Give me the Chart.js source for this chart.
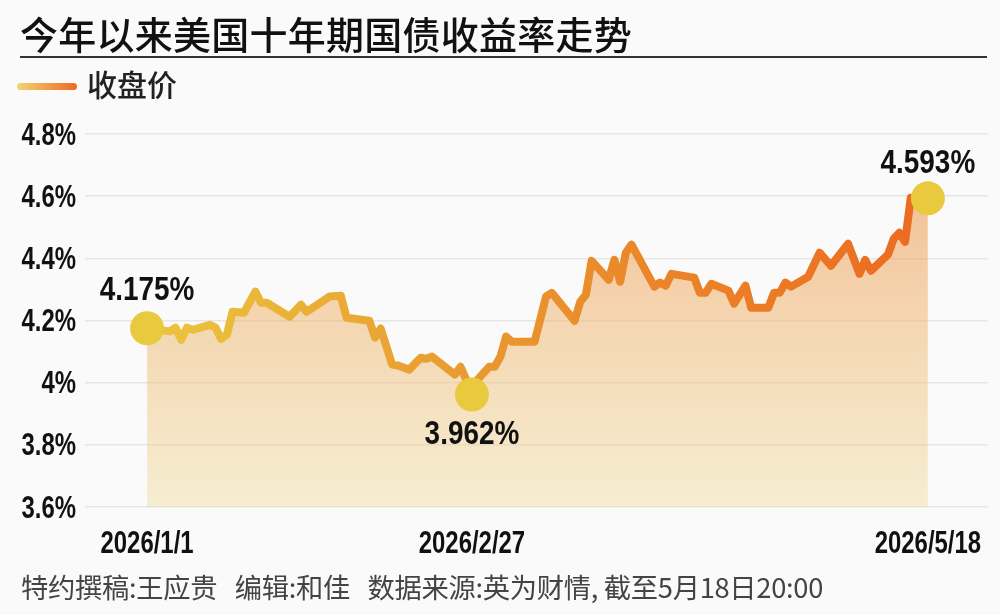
<!DOCTYPE html>
<html lang="zh"><head><meta charset="utf-8">
<script src="https://cdn.jsdelivr.net/npm/chart.js@4/dist/chart.umd.min.js"></script>
<style>
html,body{margin:0;padding:0;background:#fafafa;width:1000px;height:615px;overflow:hidden}
body{position:relative;font-family:"Noto Sans CJK SC","Noto Sans",sans-serif}
#c{position:absolute;left:0;top:0}
.t{position:absolute;white-space:nowrap;line-height:1}
#title{left:20px;top:14px;font-size:38px;font-weight:500;color:#111;letter-spacing:.25px}
#rule{position:absolute;left:20px;top:56px;width:967px;height:2px;background:#333}
#leg{position:absolute;left:17px;top:83px;width:60px;height:7px;border-radius:4px;background:linear-gradient(90deg,#f0d573,#ee6a22)}
#legt{left:87px;top:68px;font-size:30px;font-weight:500;color:#222}
#foot{left:21px;top:573px;font-size:27.3px;color:#444;letter-spacing:-.3px}
</style></head><body>
<canvas id="c" width="1005" height="615"></canvas>
<div class="t" id="title">今年以来美国十年期国债收益率走势</div>
<div id="rule"></div><div id="leg"></div>
<div class="t" id="legt">收盘价</div>
<div class="t" id="foot">特约撰稿:王应贵&nbsp;&nbsp;&nbsp;编辑:和佳&nbsp;&nbsp;&nbsp;数据来源:英为财情, 截至5月18日20:00</div>
<script>
const days=[0,4,5,6,7,8,11,12,13,14,15,17,19,20,21,25,27,28,32,34,35,39,40,41,43,44,46,48,49,50,54,55,56,57,58,60,61,62,63,64,68,70,71,75,76,77,78,81,82,83,84,85,89,90,91,92,96,97,98,99,102,103,105,106,109,110,111,112,113,116,118,120,123,125,126,127,130,131,132,133,134,137];
const yields=[4.175,4.165,4.177,4.138,4.177,4.170,4.186,4.177,4.141,4.154,4.228,4.225,4.293,4.257,4.257,4.212,4.251,4.228,4.277,4.280,4.209,4.199,4.145,4.174,4.058,4.055,4.042,4.080,4.077,4.084,4.026,4.051,4.010,3.962,4.010,4.051,4.051,4.084,4.148,4.132,4.132,4.277,4.289,4.199,4.260,4.283,4.392,4.331,4.395,4.325,4.418,4.444,4.309,4.322,4.312,4.350,4.338,4.289,4.289,4.318,4.296,4.254,4.312,4.241,4.241,4.289,4.289,4.322,4.309,4.341,4.418,4.376,4.447,4.350,4.395,4.360,4.412,4.463,4.482,4.453,4.595,4.593];
const yTicks=[3.6,3.8,4.0,4.2,4.4,4.6,4.8];
const yTickLabels=['3.6%','3.8%','4%','4.2%','4.4%','4.6%','4.8%'];
const xTickDays=[0,57,137];
const xTickLabels=['2026/1/1','2026/2/27','2026/5/18'];
const markedDays=[0,57,137];
const markedLabels=['4.175%','3.962%','4.593%'];
const markedOffsets=[-39,39,-36];

const pts=days.map((d,i)=>({x:d,y:yields[i]}));
const axisFont={family:'"Liberation Sans",sans-serif',size:26,weight:'bold'};

// The reference's numerals are a tall, narrow face: stretch each text draw about its anchor.
const canvas=document.getElementById('c');
const ctx2d=canvas.getContext('2d');
const rawFill=ctx2d.fillText.bind(ctx2d);
let stretch=[.92,1.2];
ctx2d.fillText=function(t,x,y){
  ctx2d.save();ctx2d.translate(x,y+2);ctx2d.scale(stretch[0],stretch[1]);rawFill(t,0,0);ctx2d.restore();
};

const markLabels={id:'markLabels',afterDatasetsDraw(ch){
  const {ctx,scales:{x,y}}=ch;
  ctx.save();
  stretch=[.9,1.05];
  ctx.font='bold 31px "Liberation Sans",sans-serif';
  ctx.fillStyle='#111';ctx.textAlign='center';ctx.textBaseline='middle';
  markedDays.forEach((d,i)=>{
    const v=yields[days.indexOf(d)];
    ctx.fillText(markedLabels[i],x.getPixelForValue(d),y.getPixelForValue(v)+markedOffsets[i]);
  });
  stretch=[.92,1.2];
  ctx.restore();
}};

new Chart(canvas,{
  type:'line',
  data:{datasets:[{
    data:pts,
    borderWidth:8,
    borderJoinStyle:'round',
    borderCapStyle:'round',
    tension:0,
    fill:'start',
    borderColor(c){
      const a=c.chart.chartArea; if(!a) return '#e98a2a';
      const g=c.chart.ctx.createLinearGradient(c.chart.scales.x.getPixelForValue(0),0,c.chart.scales.x.getPixelForValue(137),0);
      g.addColorStop(0,'#ebc53e');g.addColorStop(.45,'#e9962e');g.addColorStop(1,'#ec6a20');
      return g;
    },
    backgroundColor(c){
      const a=c.chart.chartArea; if(!a) return '#f3d0a8';
      const g=c.chart.ctx.createLinearGradient(0,c.chart.scales.y.getPixelForValue(4.6),0,a.bottom);
      g.addColorStop(0,'rgba(238,155,85,.6)');g.addColorStop(1,'rgba(240,215,140,.38)');
      return g;
    },
    pointRadius(c){return markedDays.includes(c.raw&&c.raw.x)?17:0},
    pointHoverRadius(c){return markedDays.includes(c.raw&&c.raw.x)?17:0},
    pointBackgroundColor:'#e9c93e',
    pointBorderWidth:0
  }]},
  options:{
    responsive:false,animation:false,
    layout:{padding:{top:134,right:8,left:0,bottom:0}},
    plugins:{legend:{display:false},tooltip:{enabled:false}},
    scales:{
      x:{type:'linear',min:-10.89,max:147.55,
        afterBuildTicks(s){s.ticks=xTickDays.map(v=>({value:v}))},
        afterFit(s){s.height=108;s.paddingLeft=0;s.paddingRight=0},
        grid:{display:false},border:{display:false},
        ticks:{autoSkip:false,maxRotation:0,padding:12,color:'#111',font:axisFont,
          callback:v=>xTickLabels[xTickDays.indexOf(v)]}
      },
      y:{min:3.6,max:4.8,
        afterBuildTicks(s){s.ticks=yTicks.map(v=>({value:v}))},
        afterFit(s){s.width=85;s.paddingTop=0;s.paddingBottom=0},
        grid:{color:'#e6e6e6',lineWidth:1.5,drawTicks:false},border:{display:false},
        ticks:{padding:9,color:'#111',font:axisFont,
          callback:v=>yTickLabels[yTicks.indexOf(+(+v).toFixed(1))]}
      }
    }
  },
  plugins:[markLabels]
});
</script></body></html>
